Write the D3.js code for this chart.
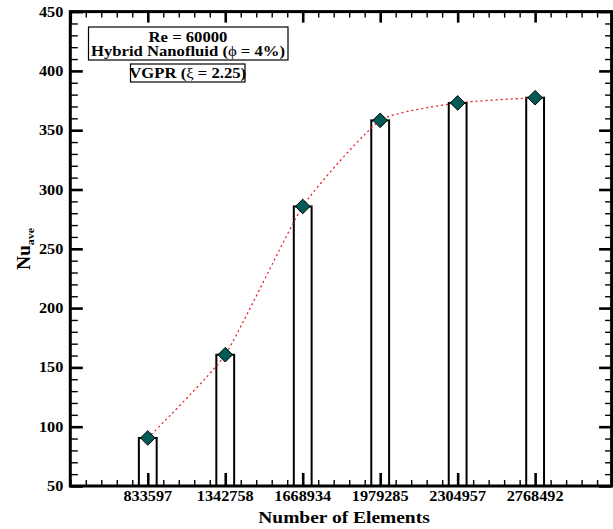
<!DOCTYPE html>
<html>
<head>
<meta charset="utf-8">
<script src="https://cdn.jsdelivr.net/npm/d3@7/dist/d3.min.js"></script>
<style>
  html, body { margin: 0; padding: 0; background: #fff; }
  svg { display: block; }
  text { font-family: "Liberation Serif", "Times New Roman", serif; font-weight: bold; fill: #000; }
</style>
</head>
<body>
<svg id="chart" width="613" height="529"></svg>
<script>
// Grid-independence study: mesh sizes and averaged Nusselt number
const meshLabels = ["833597", "1342758", "1668934", "1979285", "2304957", "2768492"];
const nuAve = [90.5, 160.7, 285.7, 358.3, 373, 377.4];
const yTicks = [50, 100, 150, 200, 250, 300, 350, 400, 450];
const legendLines = ["Re = 60000", "Hybrid Nanofluid (", "ϕ", " = 4%)"];

const svg = d3.select("#chart");
const plot = { left: 70.3, right: 612.6, top: 11.6, bottom: 486 };

const x = d3.scaleLinear().domain([0, 7]).range([plot.left, plot.right]);
const y = d3.scaleLinear().domain([50, 450]).range([plot.bottom, plot.top]);

const pos = (d, i) => i + 1;

// text placed at (tx, ty) and stretched horizontally
function wideText(parent, tx, ty, size, sx) {
  return parent.append("text")
    .attr("transform", `translate(${tx},${ty}) scale(${sx},1)`)
    .attr("font-size", size);
}

// ---- bars (drawn from the baseline 50 up to each value)
const barW = x(0.23) - x(0);
svg.append("g").selectAll("rect").data(nuAve).join("rect")
  .attr("x", (d, i) => x(pos(d, i)) - barW / 2)
  .attr("y", d => y(d))
  .attr("width", barW)
  .attr("height", d => y(50) - y(d))
  .attr("fill", "#fff").attr("stroke", "#000").attr("stroke-width", 2);

// ---- axes: ticks everywhere, labels on left and bottom
function tickGroup(axis, scale, major, minor, majorLen, minorLen) {
  const g = svg.append("g");
  const mk = (vals, len, w) => {
    g.append("g").call(axis(scale).tickValues(vals).tickSize(len).tickFormat(""))
      .call(s => s.select(".domain").remove())
      .selectAll("line").attr("stroke", "#000").attr("stroke-width", w);
  };
  mk(minor, minorLen, 1.4);
  mk(major, majorLen, 2.6);
  return g;
}
const yMinor = d3.range(50, 451, 10).filter(v => v % 50 !== 0);
const xMinor = d3.range(0, 7.001, 0.2).map(v => +v.toFixed(2)).filter(v => Math.abs(v - Math.round(v)) > 1e-6);
const xMajor = d3.range(0, 8);
const catTicks = d3.range(1, 7);

// left
tickGroup(d3.axisRight, y, yTicks, yMinor, 12.5, 7.5).attr("transform", `translate(${plot.left},0)`);
// right
tickGroup(d3.axisLeft, y, yTicks, yMinor, 12.5, 6.5).attr("transform", `translate(${plot.right - 1},0)`);
// top
tickGroup(d3.axisBottom, x, xMajor, xMinor, 11, 6).attr("transform", `translate(0,${plot.top})`);
// bottom
tickGroup(d3.axisTop, x, catTicks, xMinor.concat([0, 7]), 13, 6).attr("transform", `translate(0,${plot.bottom})`);

// frame
svg.append("rect")
  .attr("x", plot.left).attr("y", plot.top)
  .attr("width", plot.right - plot.left - 1).attr("height", plot.bottom - plot.top)
  .attr("fill", "none").attr("stroke", "#000").attr("stroke-width", 3);

// tick labels
const yLab = svg.append("g");
yTicks.forEach(v => {
  wideText(yLab, plot.left - 7, y(v) + 5, 14.5, 1.12).attr("text-anchor", "end").text(v);
});
const xLab = svg.append("g");
meshLabels.forEach((m, i) => {
  wideText(xLab, x(pos(m, i)), 500.5, 14.5, 1.12).attr("text-anchor", "middle").text(m);
});

// axis titles
wideText(svg, 344, 522.5, 16.5, 1.18).attr("text-anchor", "middle").text("Number of Elements");
const yt = svg.append("text").attr("transform", "translate(30,249) rotate(-90) scale(1.08,1)")
  .attr("text-anchor", "middle").attr("font-size", 18);
yt.append("tspan").text("Nu");
yt.append("tspan").attr("font-size", 11).attr("dy", 4).text("ave");

// ---- trend line through the points
const line = d3.line().x((d, i) => x(pos(d, i))).y(d => y(d)).curve(d3.curveCardinal.tension(0.5));
svg.append("path").datum(nuAve).attr("d", line)
  .attr("fill", "none").attr("stroke", "#e8202a").attr("stroke-width", 1.3)
  .attr("stroke-dasharray", "2,3");

// ---- diamond markers
const diamond = d3.symbol().type(d3.symbolDiamond2).size(136);
svg.append("g").selectAll("path").data(nuAve).join("path")
  .attr("transform", (d, i) => `translate(${x(pos(d, i))},${y(d)})`)
  .attr("d", diamond)
  .attr("fill", "#005a55").attr("stroke", "#000").attr("stroke-width", 1);

// ---- annotation boxes
svg.append("rect").attr("x", 88.5).attr("y", 27).attr("width", 199.5).attr("height", 33)
  .attr("fill", "#fff").attr("stroke", "#000").attr("stroke-width", 1.2);
wideText(svg, 188, 41.5, 14.5, 1.15).attr("text-anchor", "middle").text(legendLines[0]);
const t2 = wideText(svg, 188, 56, 14.5, 1.15).attr("text-anchor", "middle");
t2.append("tspan").text(legendLines[1]);
t2.append("tspan").attr("font-weight", "normal").text(legendLines[2]);
t2.append("tspan").text(legendLines[3]);

svg.append("rect").attr("x", 130.5).attr("y", 64).attr("width", 114.5).attr("height", 18)
  .attr("fill", "#fff").attr("stroke", "#000").attr("stroke-width", 1.2);
const t3 = wideText(svg, 187.7, 77.5, 14.5, 1.15).attr("text-anchor", "middle");
t3.append("tspan").text("VGPR (");
t3.append("tspan").attr("font-weight", "normal").text("ξ");
t3.append("tspan").text(" = 2.25)");
</script>
</body>
</html>
